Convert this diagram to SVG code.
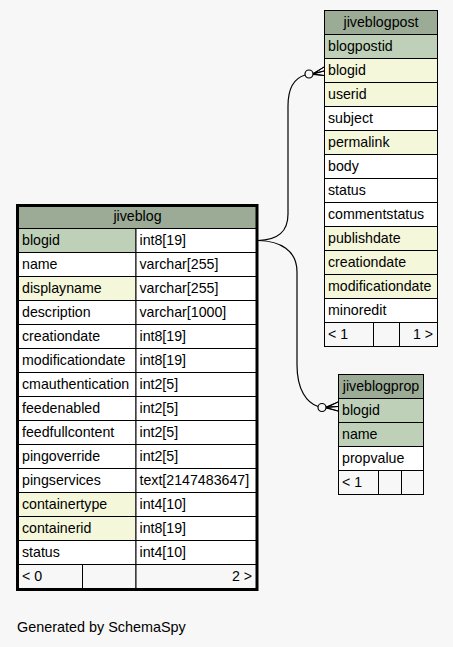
<svg xmlns="http://www.w3.org/2000/svg" width="453" height="647" viewBox="0 0 453 647">
<style>
text{font-family:"Liberation Sans",Arial,sans-serif;font-size:14.2px;fill:#000}
.c{stroke:#000;stroke-width:1}
.h{fill:#9bab96}
.pk{fill:#bed1b8}
.fk{fill:#f4f7da}
.w{fill:#ffffff}
.f{fill:#f7f7f7}
.mid{text-anchor:middle}
.end{text-anchor:end}
.edge{fill:none;stroke:#000;stroke-width:1.2}
.dot{fill:#f7f7f7;stroke:#000;stroke-width:1.2}
.crow{fill:#000;stroke:#000;stroke-width:1}
</style>
<rect x="0" y="0" width="453" height="647" fill="#f7f7f7"/>

<g id="connectors">
<path class="edge" d="M258,240.5 C278,240 288,232 288,214 L288,106 C288,88 295,78 305,75"/>
<circle class="dot" cx="309" cy="74" r="4"/>
<path class="crow" d="M324,67 L313,73.5 L324,71 L313.5,74 L324,75.5 L313,74.5 Z"/>
<path class="edge" d="M258,240.5 C280,241 297,250 297,272 L297,365 C297,390 307,403 318,406.5"/>
<circle class="dot" cx="322" cy="407.5" r="4"/>
<path class="crow" d="M338,402 L326,407 L338,406.5 L326.5,407.5 L338,411 L326,408 Z"/>
</g>

<g id="jiveblog">
<rect class="c h" x="18.5" y="206.5" width="238" height="22"/>
<rect class="c pk" x="18.5" y="228.5" width="117.5" height="24"/><rect class="c w" x="136" y="228.5" width="120.5" height="24"/>
<rect class="c w" x="18.5" y="252.5" width="117.5" height="24"/><rect class="c w" x="136" y="252.5" width="120.5" height="24"/>
<rect class="c fk" x="18.5" y="276.5" width="117.5" height="24"/><rect class="c w" x="136" y="276.5" width="120.5" height="24"/>
<rect class="c w" x="18.5" y="300.5" width="117.5" height="24"/><rect class="c w" x="136" y="300.5" width="120.5" height="24"/>
<rect class="c w" x="18.5" y="324.5" width="117.5" height="24"/><rect class="c w" x="136" y="324.5" width="120.5" height="24"/>
<rect class="c w" x="18.5" y="348.5" width="117.5" height="24"/><rect class="c w" x="136" y="348.5" width="120.5" height="24"/>
<rect class="c w" x="18.5" y="372.5" width="117.5" height="24"/><rect class="c w" x="136" y="372.5" width="120.5" height="24"/>
<rect class="c w" x="18.5" y="396.5" width="117.5" height="24"/><rect class="c w" x="136" y="396.5" width="120.5" height="24"/>
<rect class="c w" x="18.5" y="420.5" width="117.5" height="24"/><rect class="c w" x="136" y="420.5" width="120.5" height="24"/>
<rect class="c w" x="18.5" y="444.5" width="117.5" height="24"/><rect class="c w" x="136" y="444.5" width="120.5" height="24"/>
<rect class="c w" x="18.5" y="468.5" width="117.5" height="24"/><rect class="c w" x="136" y="468.5" width="120.5" height="24"/>
<rect class="c fk" x="18.5" y="492.5" width="117.5" height="24"/><rect class="c w" x="136" y="492.5" width="120.5" height="24"/>
<rect class="c fk" x="18.5" y="516.5" width="117.5" height="24"/><rect class="c w" x="136" y="516.5" width="120.5" height="24"/>
<rect class="c w" x="18.5" y="540.5" width="117.5" height="24"/><rect class="c w" x="136" y="540.5" width="120.5" height="24"/>
<rect class="c f" x="18.5" y="564.5" width="64" height="24"/><rect class="c f" x="82.5" y="564.5" width="53.5" height="24"/><rect class="c f" x="136" y="564.5" width="120.5" height="24"/>
<rect x="17.5" y="205.5" width="239.5" height="384" fill="none" stroke="#000" stroke-width="3"/>
<text class="mid" x="137.5" y="221">jiveblog</text>
<text x="22" y="245">blogid</text><text x="139.5" y="245">int8[19]</text>
<text x="22" y="269">name</text><text x="139.5" y="269">varchar[255]</text>
<text x="22" y="293">displayname</text><text x="139.5" y="293">varchar[255]</text>
<text x="22" y="317">description</text><text x="139.5" y="317">varchar[1000]</text>
<text x="22" y="341">creationdate</text><text x="139.5" y="341">int8[19]</text>
<text x="22" y="365">modificationdate</text><text x="139.5" y="365">int8[19]</text>
<text x="22" y="389">cmauthentication</text><text x="139.5" y="389">int2[5]</text>
<text x="22" y="413">feedenabled</text><text x="139.5" y="413">int2[5]</text>
<text x="22" y="437">feedfullcontent</text><text x="139.5" y="437">int2[5]</text>
<text x="22" y="461">pingoverride</text><text x="139.5" y="461">int2[5]</text>
<text x="22" y="485">pingservices</text><text x="139.5" y="485">text[2147483647]</text>
<text x="22" y="509">containertype</text><text x="139.5" y="509">int4[10]</text>
<text x="22" y="533">containerid</text><text x="139.5" y="533">int8[19]</text>
<text x="22" y="557">status</text><text x="139.5" y="557">int4[10]</text>
<text x="22" y="581">&lt; 0</text><text class="end" x="252" y="581">2 &gt;</text>
</g>

<g id="jiveblogpost">
<rect class="c h" x="324.5" y="10.5" width="113" height="24"/>
<rect class="c pk" x="324.5" y="34.5" width="113" height="24"/>
<rect class="c fk" x="324.5" y="58.5" width="113" height="24"/>
<rect class="c fk" x="324.5" y="82.5" width="113" height="24"/>
<rect class="c w" x="324.5" y="106.5" width="113" height="24"/>
<rect class="c fk" x="324.5" y="130.5" width="113" height="24"/>
<rect class="c w" x="324.5" y="154.5" width="113" height="24"/>
<rect class="c w" x="324.5" y="178.5" width="113" height="24"/>
<rect class="c w" x="324.5" y="202.5" width="113" height="24"/>
<rect class="c fk" x="324.5" y="226.5" width="113" height="24"/>
<rect class="c fk" x="324.5" y="250.5" width="113" height="24"/>
<rect class="c fk" x="324.5" y="274.5" width="113" height="24"/>
<rect class="c w" x="324.5" y="298.5" width="113" height="24"/>
<rect class="c f" x="324.5" y="322.5" width="49" height="24"/><rect class="c f" x="373.5" y="322.5" width="26" height="24"/><rect class="c f" x="399.5" y="322.5" width="38" height="24"/>
<text class="mid" x="381" y="27">jiveblogpost</text>
<text x="328" y="51">blogpostid</text>
<text x="328" y="75">blogid</text>
<text x="328" y="99">userid</text>
<text x="328" y="123">subject</text>
<text x="328" y="147">permalink</text>
<text x="328" y="171">body</text>
<text x="328" y="195">status</text>
<text x="328" y="219">commentstatus</text>
<text x="328" y="243">publishdate</text>
<text x="328" y="267">creationdate</text>
<text x="328" y="291">modificationdate</text>
<text x="328" y="315">minoredit</text>
<text x="328" y="339">&lt; 1</text><text class="end" x="433" y="339">1 &gt;</text>
</g>

<g id="jiveblogprop">
<rect class="c h" x="338.5" y="374.5" width="85" height="24"/>
<rect class="c pk" x="338.5" y="398.5" width="85" height="24"/>
<rect class="c pk" x="338.5" y="422.5" width="85" height="24"/>
<rect class="c w" x="338.5" y="446.5" width="85" height="24"/>
<rect class="c f" x="338.5" y="470.5" width="40" height="24"/><rect class="c f" x="378.5" y="470.5" width="23" height="24"/><rect class="c f" x="401.5" y="470.5" width="22" height="24"/>
<text class="mid" x="381" y="391">jiveblogprop</text>
<text x="342" y="415">blogid</text>
<text x="342" y="439">name</text>
<text x="342" y="463">propvalue</text>
<text x="342" y="487">&lt; 1</text>
</g>

<text x="17" y="632" style="font-size:14.4px">Generated by SchemaSpy</text>
</svg>
